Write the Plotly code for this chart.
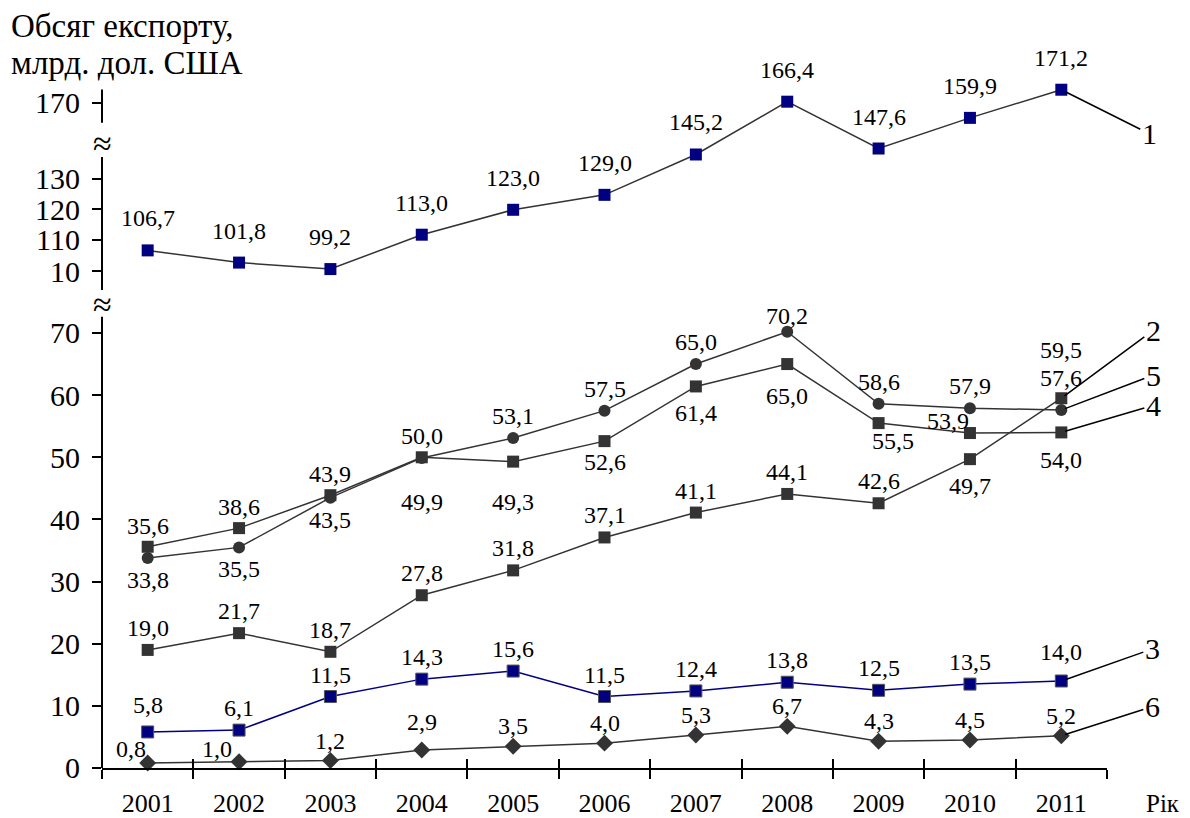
import plotly.graph_objects as go

# роки та обсяги експорту (млрд. дол. США)
years = [2001, 2002, 2003, 2004, 2005, 2006, 2007, 2008, 2009, 2010, 2011]
s1 = [106.7, 101.8, 99.2, 113.0, 123.0, 129.0, 145.2, 166.4, 147.6, 159.9, 171.2]
s2 = [19.0, 21.7, 18.7, 27.8, 31.8, 37.1, 41.1, 44.1, 42.6, 49.7, 59.5]
s3 = [5.8, 6.1, 11.5, 14.3, 15.6, 11.5, 12.4, 13.8, 12.5, 13.5, 14.0]
s4 = [35.6, 38.6, 43.9, 50.0, 49.3, 52.6, 61.4, 65.0, 55.5, 53.9, 54.0]
s5 = [33.8, 35.5, 43.5, 49.9, 53.1, 57.5, 65.0, 70.2, 58.6, 57.9, 57.6]
s6 = [0.8, 1.0, 1.2, 2.9, 3.5, 4.0, 5.3, 6.7, 4.3, 4.5, 5.2]

# верхня шкала (з розривом) - поділки стоять там, де на оригіналі
top_tick_vals = [98.4, 110.9, 123.3, 135.4, 165.9]
top_tick_text = ["10", "110", "120", "130", "170"]
bottom_ticks = [0, 10, 20, 30, 40, 50, 60, 70]

FONT = "Liberation Serif"
GREY = "#333333"
NAVY = "#000080"

fig = go.Figure()

# (дані, вісь y, колір лінії, маркер, колір маркера, номер ряду)
series = [
    (s1, "y2", GREY, "square", NAVY, "1"),
    (s2, "y", GREY, "square", GREY, "2"),
    (s3, "y", NAVY, "square", NAVY, "3"),
    (s4, "y", GREY, "square", GREY, "4"),
    (s5, "y", GREY, "circle", GREY, "5"),
    (s6, "y", GREY, "diamond", GREY, "6"),
]

for vals, yax, lc, sym, mc, name in series:
    fig.add_trace(go.Scatter(
        x=years, y=vals, yaxis=yax, mode="lines+markers", name=name,
        # ряд 6 на другій (накладеній) осі x - вона малює внутрішні поділки
        xaxis="x2" if name == "6" else "x",
        line=dict(color=lc, width=1.5),
        marker=dict(symbol=sym, size=12 if sym != "diamond" else 13, color=mc,
                    line=dict(color="#555555", width=1 if name == "3" else 0)),
        showlegend=False, cliponaxis=False,
    ))

# зсув підписів значень (пікселі): за замовчуванням для ряду + винятки
default_shift = {"1": 32, "2": 22, "3": 22, "4": 21, "5": -22, "6": 20}
side_4 = [1, 1, 1, 1, -1, -1, -1, -1, -1, 1, -1]
side_5 = [-1, -1, -1, -1, 1, 1, 1, 1, 1, 1, 1]
overrides = {
    ("2", 9): (0, -27), ("2", 10): (0, 48),
    ("4", 4): (0, -40), ("4", 6): (0, -27), ("4", 7): (0, -32), ("4", 8): (14, -18),
    ("4", 9): (-22, 12), ("4", 10): (0, -28),
    ("5", 2): (0, -22), ("5", 3): (0, -44), ("5", 7): (0, 16), ("5", 10): (0, 32),
    ("3", 0): (0, 27), ("3", 10): (0, 29),
    ("6", 0): (-17, 14), ("6", 1): (-22, 13), ("6", 3): (0, 28),
}

for vals, yax, lc, sym, mc, name in series:
    for i, (xv, v) in enumerate(zip(years, vals)):
        dy = default_shift[name]
        if name == "4":
            dy = abs(dy) * side_4[i]
        if name == "5":
            dy = abs(dy) * side_5[i]
        dx = 0
        if (name, i) in overrides:
            dx, dy = overrides[(name, i)]
        fig.add_annotation(
            x=xv, y=v, yref=yax, text=f"{v:.1f}".replace(".", ","),
            showarrow=False, xshift=dx, yshift=dy,
            font=dict(family=FONT, size=24, color="black"),
        )

# номери рядів з виносними лініями
leaders = [
    ("1", s1, "y2", 88, 44),
    ("2", s2, "y", 92, -68),
    ("5", s5, "y", 92, -35),
    ("4", s4, "y", 92, -27),
    ("3", s3, "y", 91, -32),
    ("6", s6, "y", 91, -29),
]
for name, vals, yax, ax, ay in leaders:
    fig.add_annotation(
        x=years[-1], y=vals[-1], yref=yax, text=name,
        showarrow=True, arrowhead=0, arrowwidth=1.5, arrowcolor="black",
        ax=ax, ay=ay, standoff=4,
        font=dict(family=FONT, size=30, color="black"),
    )

# розриви осі
for yref, yv in [("y2 domain", 0.717), ("y domain", 1.022)]:
    fig.add_annotation(x=0, xref="paper", y=yv, yref=yref, text="≈", showarrow=False,
                       xanchor="center", yanchor="middle",
                       font=dict(family=FONT, size=34, color="black"))

# лінії осі y (з розривами)
axis_segments = [("y", 0, 72.6), ("y2", 90.8, 144.2), ("y2", 157.9, 171.3)]
for yref, y0, y1 in axis_segments:
    fig.add_shape(type="line", xref="paper", x0=0, x1=0, yref=yref, y0=y0, y1=y1,
                  line=dict(color="black", width=2))

# підпис осі y - два рядки
for txt, yv in [("Обсяг експорту,", 1.019), ("млрд. дол. США", 0.968)]:
    fig.add_annotation(
        x=-0.093, xref="paper", y=yv, yref="paper", xanchor="left", yanchor="middle",
        text=txt, showarrow=False, font=dict(family=FONT, size=33, color="black"),
    )
fig.add_annotation(
    x=1.037, xref="paper", y=-0.049, yref="paper", xanchor="left", yanchor="middle",
    text="Рік", showarrow=False, font=dict(family=FONT, size=25, color="black"),
)

half_ticks = [y - 0.5 for y in years] + [2011.5]

fig.update_layout(
    width=1190, height=818,
    margin=dict(l=102, r=83, t=40, b=50),
    paper_bgcolor="white", plot_bgcolor="white",
    font=dict(family=FONT, size=30, color="black"),
    xaxis=dict(
        range=[2000.5, 2011.5], tickvals=years, ticktext=[str(y) for y in years],
        ticks="", showgrid=False, zeroline=False, automargin=False,
        showline=True, linecolor="black", linewidth=2,
        ticklabelstandoff=11, tickfont=dict(size=26),
        minor=dict(tickmode="array", tickvals=half_ticks,
                   ticks="outside", ticklen=9, tickwidth=2, tickcolor="black"),
        anchor="y",
    ),
    xaxis2=dict(
        range=[2000.5, 2011.5], overlaying="x", anchor="y", side="bottom",
        tickvals=half_ticks, showticklabels=False,
        ticks="inside", ticklen=9, tickwidth=2, tickcolor="black",
        showgrid=False, zeroline=False, showline=False, automargin=False,
    ),
    yaxis=dict(
        domain=[0, 0.6223], range=[0, 72.9], tickvals=bottom_ticks,
        ticks="outside", ticklen=9, tickwidth=2, tickcolor="black", automargin=False,
        showgrid=False, zeroline=False, showline=False, ticklabelstandoff=6,
    ),
    yaxis2=dict(
        domain=[0.6566, 0.9382], range=[90.8, 173.1], tickvals=top_tick_vals,
        ticktext=top_tick_text, automargin=False,
        ticks="outside", ticklen=9, tickwidth=2, tickcolor="black",
        showgrid=False, zeroline=False, showline=False, ticklabelstandoff=6,
        anchor="x",
    ),
)

# прибираємо стандартний відступ сторінки, щоб рисунок стояв у кутку вікна
fig.write_html("out.html", config={"displayModeBar": False},
               post_script="document.body.style.margin='0';")
